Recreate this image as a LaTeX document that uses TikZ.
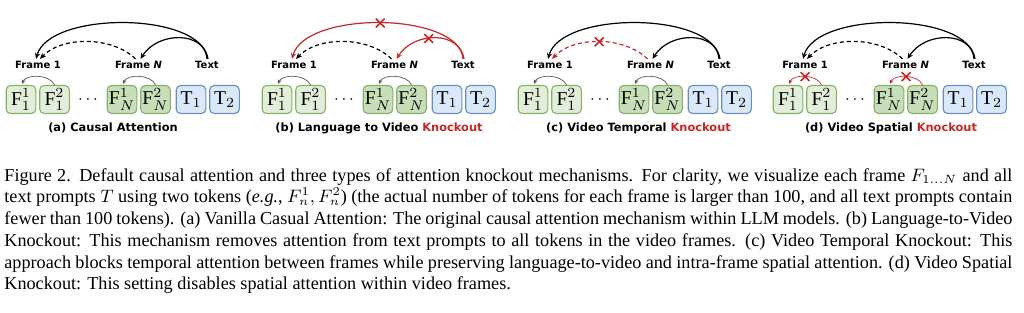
\documentclass[tikz,border=0pt]{standalone}
\usepackage{fontspec}
\setmainfont{Liberation Serif}
\newfontfamily\labfont{DejaVu Sans}
\usetikzlibrary{arrows.meta,shapes.misc}
\definecolor{gfill}{HTML}{E2EEDA}
\definecolor{gfillN}{HTML}{C8DEB8}
\definecolor{gdraw}{HTML}{82B366}
\definecolor{bfill}{HTML}{DAE8FC}
\definecolor{bdraw}{HTML}{6C8EBF}
\definecolor{kored}{HTML}{C62828}
\definecolor{spgray}{HTML}{555555}
\tikzset{
  tok/.style={rounded corners=2.2pt, draw=gdraw, line width=0.55pt, minimum width=14.8pt, minimum height=14pt, inner sep=0pt, font=\fontsize{9.8}{11}\selectfont},
  fa/.style={tok, fill=gfill},
  fb/.style={tok, fill=gfillN},
  tt/.style={tok, fill=bfill, draw=bdraw},
  lab/.style={font=\labfont\bfseries\fontsize{5}{6}\selectfont, inner sep=1pt},
  sublab/.style={font=\labfont\bfseries\fontsize{5.7}{7}\selectfont, inner sep=0pt},
  att/.style={-{Stealth[length=3pt,width=2.6pt]}, line width=0.6pt},
  spat/.style={-{Stealth[length=2.2pt,width=2pt]}, line width=0.35pt},
  dsh/.style={dash pattern=on 2pt off 1.5pt},
  xm/.style={cross out, draw=kored, line width=0.8pt, minimum size=3.6pt, inner sep=0pt},
  captext/.style={font=\fontsize{9.1}{10.9}\selectfont, inner sep=0pt, anchor=base west}
}
% #1 prefix, #2 offset, #3 big arc colour, #4 text->N colour, #5 dashed colour, #6 spatial colour
\newcommand\panelarcs[6]{%
  \begin{scope}[shift={(#2,0)}]
    \draw[att, #3] ([shift={(1,0)}]#1tx.north) .. controls (201,11) and (49,11) .. coordinate[pos=0.5] (#1xbig) ([shift={(-2,0)}]#1lf1.north);
    \draw[att, #4] (#1tx.north) .. controls (205,31) and (158,31) .. coordinate[pos=0.58] (#1xtn) ([shift={(2,0)}]#1lfN.north);
    \draw[att, dsh, #5] ([shift={(-3,0)}]#1lfN.north) .. controls (112,36) and (62,36) .. coordinate[pos=0.5] (#1xdash) ([shift={(2,0)}]#1lf1.north);
    \draw[spat, #6] ([shift={(0,0)}]#1f12.north) .. controls (50,74) and (26,74) .. coordinate[pos=0.5] (#1xs1) ([shift={(1,-1)}]#1f11.north);
    \draw[spat, #6] ([shift={(0,0)}]#1fN2.north) .. controls (151,74) and (127,74) .. coordinate[pos=0.5] (#1xsN) ([shift={(1,-1)}]#1fN1.north);
  \end{scope}}
\begin{document}
\begin{tikzpicture}[x=0.5pt, y=-0.5pt]
\useasboundingbox (0,0) rectangle (1024,312);
\foreach \p/\o in {a/0,b/256,c/512,d/767}{
  \begin{scope}[shift={(\o,0)}]
    \node[fa] (\p f11) at (21,99.5) {$\mathrm{F}_1^1$};
    \node[fa] (\p f12) at (54.5,99.5) {$\mathrm{F}_1^2$};
    \node[inner sep=0pt, font=\fontsize{8.5}{10}\selectfont] (\p dots) at (88,99.5) {$\cdots$};
    \node[fb] (\p fN1) at (122,99.5) {$\mathrm{F}_N^1$};
    \node[fb] (\p fN2) at (155.5,99.5) {$\mathrm{F}_N^2$};
    \node[tt] (\p t1) at (191,99.5) {$\mathrm{T}_1$};
    \node[tt] (\p t2) at (224.5,99.5) {$\mathrm{T}_2$};
    \node[lab] (\p lf1) at (38,65) {Frame 1};
    \node[lab] (\p lfN) at (138.5,65) {Frame \textit{N}};
    \node[lab] (\p tx) at (207,65) {Text};
  \end{scope}
}
\panelarcs{a}{0}{black}{black}{black}{spgray}
\panelarcs{b}{256}{kored}{kored}{black}{spgray}
\panelarcs{c}{512}{black}{black}{kored}{spgray}
\panelarcs{d}{767}{black}{black}{black}{kored}
\node[xm] (xb1) at (bxbig) {};
\node[xm] (xb2) at (bxtn) {};
\node[xm] (xc1) at (cxdash) {};
\node[xm] (xd1) at (dxs1) {};
\node[xm] (xd2) at (dxsN) {};
\node[sublab] (sa) at (113,128) {(a) Causal Attention};
\node[sublab] (sb) at (379,128) {(b) Language to Video \textcolor{kored}{Knockout}};
\node[sublab] (sc) at (638.5,128) {(c) Video Temporal \textcolor{kored}{Knockout}};
\node[sublab] (sd) at (891,128) {(d) Video Spatial \textcolor{kored}{Knockout}};
\node[captext] (c1) at (4,181) {\makebox[504pt][s]{Figure 2. Default causal attention and three types of attention knockout mechanisms. For clarity, we visualize each frame $F_{1\dots N}$ and all}};
\node[captext] (c2) at (4,202.75) {\makebox[504pt][s]{text prompts $T$ using two tokens (\emph{e.g.}, $F_n^1, F_n^2$) (the actual number of tokens for each frame is larger than 100, and all text prompts contain}};
\node[captext] (c3) at (4,224.5) {\makebox[504pt][s]{fewer than 100 tokens). (a) Vanilla Casual Attention: The original causal attention mechanism within LLM models. (b) Language-to-Video}};
\node[captext] (c4) at (4,246.25) {\makebox[504pt][s]{Knockout: This mechanism removes attention from text prompts to all tokens in the video frames. (c) Video Temporal Knockout: This}};
\node[captext] (c5) at (4,268) {\makebox[504pt][s]{approach blocks temporal attention between frames while preserving language-to-video and intra-frame spatial attention. (d) Video Spatial}};
\node[captext] (c6) at (4,289.75) {Knockout: This setting disables spatial attention within video frames.};
\end{tikzpicture}
\end{document}
